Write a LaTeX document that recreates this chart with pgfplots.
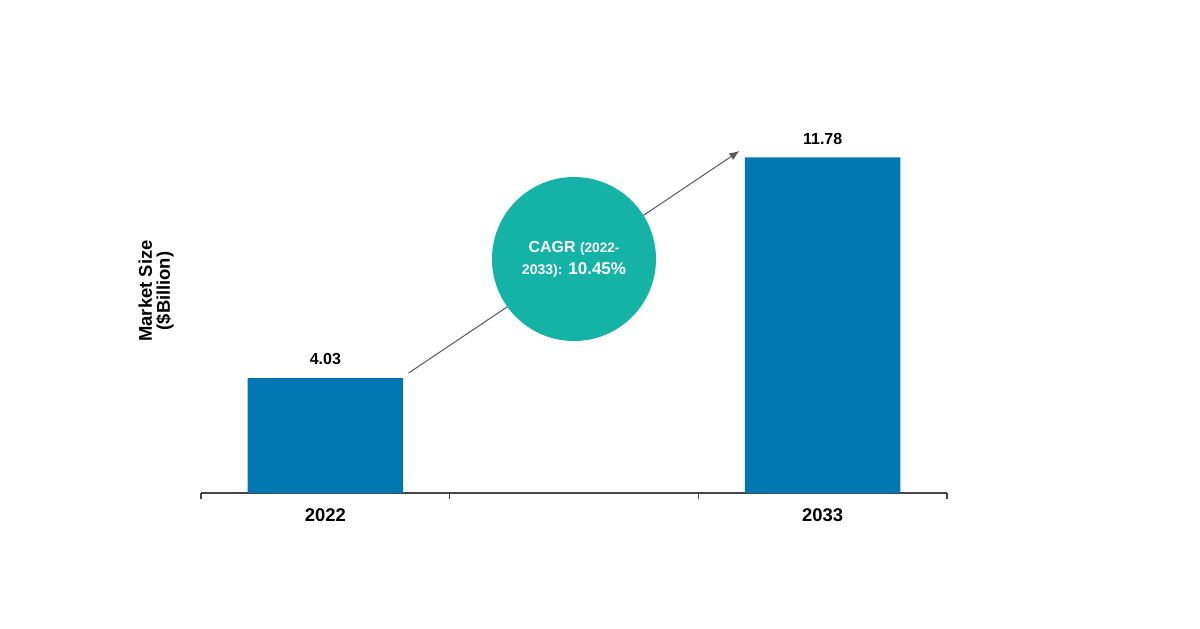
\documentclass[border=0pt]{standalone}
\usepackage{pgfplots}
\pgfplotsset{compat=1.18}
\usepackage{fontspec}
\setmainfont{Liberation Sans}
\usetikzlibrary{arrows.meta}
\definecolor{barblue}{RGB}{0,119,176}
\definecolor{cagrteal}{RGB}{20,179,166}
\definecolor{axisgray}{RGB}{70,70,70}
\begin{document}
\begin{tikzpicture}
\useasboundingbox (0pt,0pt) rectangle (600pt,314pt);
\begin{axis}[
  at={(100.5pt,67.5pt)}, anchor=south west,
  scale only axis, width=373pt, height=171pt,
  xmin=-0.5, xmax=2.5, ymin=0, ymax=12,
  enlargelimits=false, clip=false,
  axis x line*=bottom, axis y line=none,
  axis line style={draw=axisgray, line width=0.6pt},
  xtick={0,2}, xticklabels={2022,2033},
  major tick length=0pt,
  xticklabel style={font=\bfseries\fontsize{9.2}{11}\selectfont, yshift=-4.5pt},
  extra x ticks={-0.5,0.5,1.5,2.5}, extra x tick labels={},
  extra x tick style={major tick length=3pt, tick align=outside,
    tick style={draw=axisgray, line width=0.6pt}},
  ybar, bar width=0.625,
  nodes near coords, point meta=explicit symbolic,
  nodes near coords style={font=\bfseries\fontsize{8}{10}\selectfont, yshift=3pt, text=black},
]
\addplot[fill=barblue, draw=none] coordinates {(0,4.03) [4.03] (2,11.78) [11.78]};
\draw[-{Latex[length=5pt,width=4pt]}, draw=black!65, line width=0.5pt]
  (axis cs:0.335,4.21) -- (axis cs:1.665,12.0);
\fill[cagrteal] (axis cs:1.0,8.21) circle[radius=41pt];
\node[align=center, text=white, font=\bfseries\fontsize{8}{11}\selectfont, inner sep=0pt]
  at (axis cs:1.0,8.21)
  {{\fontsize{8}{11}\selectfont CAGR} {\fontsize{6.8}{11}\selectfont (2022-}\\
   {\fontsize{7}{11}\selectfont 2033):} {\fontsize{8.5}{11}\selectfont 10.45\%}};
\end{axis}
\node[rotate=90, align=center, font=\bfseries\fontsize{9.2}{9}\selectfont]
  at (78pt,168.5pt) {Market Size\\(\$Billion)};
\end{tikzpicture}
\end{document}
